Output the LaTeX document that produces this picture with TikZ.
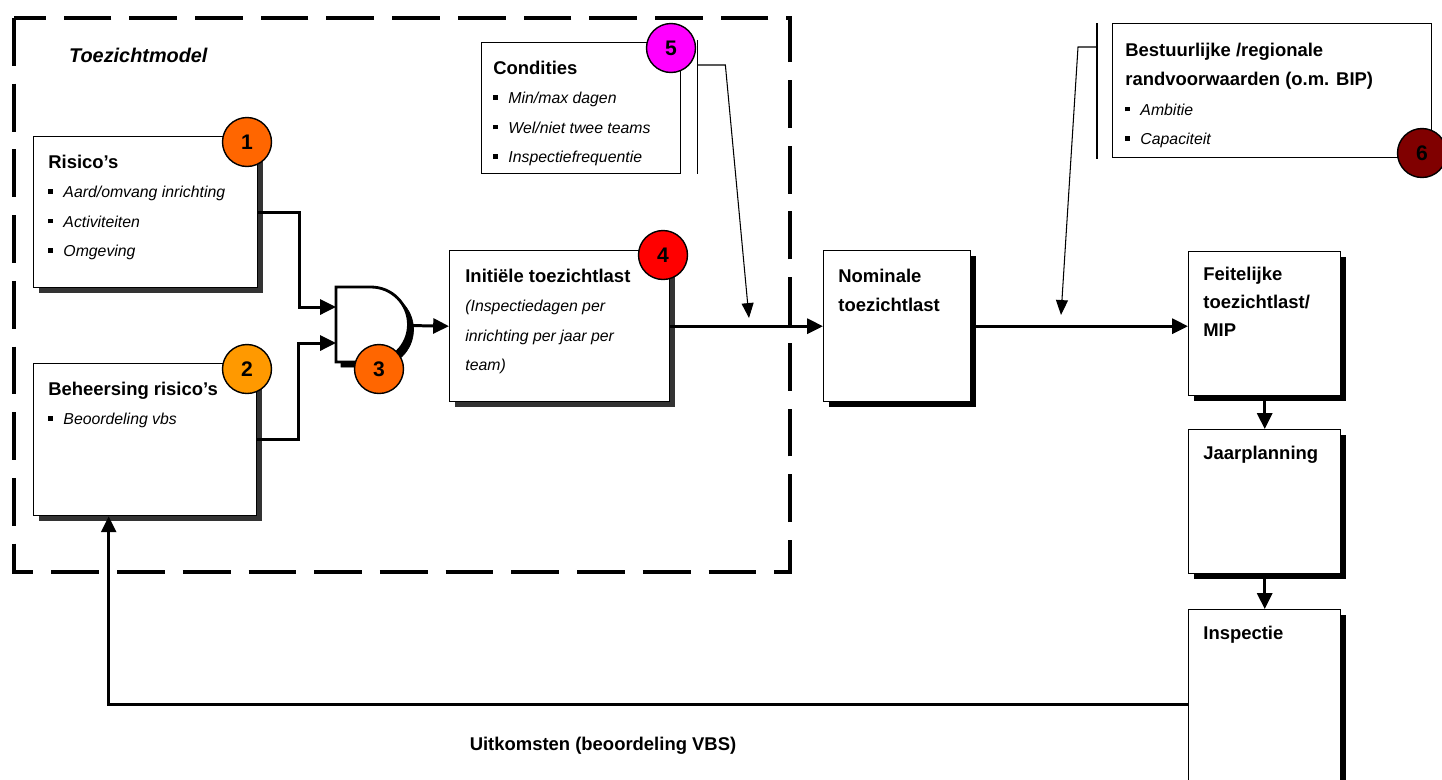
\documentclass[tikz,border=0pt]{standalone}
\usepackage{fontspec}
\setmainfont{Liberation Sans}
\usetikzlibrary{arrows.meta, shadows, calc}
\usepackage{color}

\definecolor{oranje}{HTML}{FF6600}
\definecolor{lichtoranje}{HTML}{FF9900}
\definecolor{rood}{HTML}{FF0000}
\definecolor{paars}{HTML}{FF00FF}
\definecolor{donkerrood}{HTML}{800000}

\newcommand{\bitem}[1]{\rule[2.2pt]{2.6pt}{2.6pt}\hspace{6pt}\textit{#1}}
\newcommand{\bhead}[1]{{\fontsize{10.5}{16.8}\selectfont\bfseries #1}}

\tikzset{
  blok/.style={draw, fill=white, line width=0.8pt, anchor=north west, inner sep=0pt},
  grijs/.style={drop shadow={shadow xshift=0.11cm, shadow yshift=-0.11cm, fill=black!80, opacity=1}},
  zwart/.style={drop shadow={shadow xshift=0.1cm, shadow yshift=-0.1cm, fill=black, opacity=1}},
  tekst/.style={anchor=north west, align=left, inner sep=0pt, font=\fontsize{9}{16.8}\selectfont},
  kop/.style={tekst, font=\fontsize{10.5}{16.8}\selectfont\bfseries},
  nummer/.style={circle, draw, line width=0.8pt, minimum size=0.98cm, inner sep=0pt,
    font=\fontsize{12}{12}\selectfont\bfseries},
  kader/.style={line width=2.8pt, dash pattern=on 27.2pt off 10.2pt},
  stroom/.style={->, line width=1.7pt},
  dun/.style={line width=0.7pt},
  dunpijl/.style={-{Triangle[length=8.5pt,width=6.8pt]}, line width=0.6pt},
}

\begin{document}
\begin{tikzpicture}[x=0.02cm, y=-0.02cm, >={Triangle[length=9pt,width=8.5pt]}]
\useasboundingbox (0,0) rectangle (1442,779);
\draw[kader] (14,18) rectangle (790,572);
\node[anchor=base west, font=\fontsize{11.3}{13}\selectfont\bfseries\itshape] at (63,62) (TM) {Toezichtmodel};

\node[blok, grijs, minimum width=4.48cm, minimum height=3.02cm] at (33,136) (R) {};
\node[tekst] at ($(R.north west)+(15,18.5)$) (Rtxt)
    {\bhead{Risico’s}\\ \bitem{Aard/omvang inrichting}\\ \bitem{Activiteiten}\\ \bitem{Omgeving}};
\node[blok, grijs, minimum width=4.46cm, minimum height=3.04cm] at (33,363) (B) {};
\node[tekst] at ($(B.north west)+(15,18.5)$) (Btxt)
    {\bhead{Beheersing risico’s}\\ \bitem{Beoordeling vbs}};
\node[blok, grijs, minimum width=4.4cm, minimum height=3.02cm] at (449,250) (IT) {};
\node[tekst] at ($(IT.north west)+(16,18.5)$) (ITtxt)
    {\bhead{Initiële toezichtlast}\\ \textit{(Inspectiedagen per}\\ \textit{inrichting per jaar per}\\ \textit{team)}};
\node[blok, zwart, minimum width=2.94cm, minimum height=3.02cm] at (823,250) (NT) {};
\node[kop] at ($(NT.north west)+(15,18.5)$) (NTtxt) {Nominale\\ toezichtlast};
\node[blok, zwart, minimum width=3.04cm, minimum height=2.88cm] at (1188,251) (FT) {};
\node[kop, font=\fontsize{10.5}{15.9}\selectfont\bfseries] at ($(FT.north west)+(15,15.5)$) (FTtxt)
    {Feitelijke\\ toezichtlast/\\ MIP};
\node[blok, zwart, minimum width=3.04cm, minimum height=2.88cm] at (1188,429) (JP) {};
\node[kop] at ($(JP.north west)+(15,16.5)$) (JPtxt) {Jaarplanning};
\node[blok, zwart, minimum width=3.04cm, minimum height=3.8cm] at (1188,609) (IN) {};
\node[kop] at ($(IN.north west)+(15,16.5)$) (INtxt) {Inspectie};

\node[blok, minimum width=3.98cm, minimum height=2.62cm] at (481,42) (C) {};
\node[tekst] at ($(C.north west)+(12,18.5)$) (Ctxt)
    {\bhead{Condities}\\ \bitem{Min/max dagen}\\ \bitem{Wel/niet twee teams}\\ \bitem{Inspectiefrequentie}};
\node[blok, minimum width=6.38cm, minimum height=2.68cm] at (1112,23) (BR) {};
\node[tekst] at ($(BR.north west)+(13,19.5)$) (BRtxt)
    {\bhead{Bestuurlijke /regionale}\\ \bhead{randvoorwaarden (o.m. BIP)}\\ \bitem{Ambitie}\\ \bitem{Capaciteit}};

% en-poort
\filldraw[black, shift={(5,5)}] (336,287) -- (371,287)
    arc[start angle=90, end angle=-90, radius=0.75cm] -- (336,362) -- cycle;
\filldraw[fill=white, draw=black, line width=1.6pt] (336,287) -- (371,287)
    arc[start angle=90, end angle=-90, radius=0.75cm] -- (336,362) -- cycle;
\coordinate (fakeA) at (336,307);
\coordinate (fakeB) at (336,343);
\coordinate (fakeOut) at (408,325.5);

\draw[stroom] (R.east) -- ++(41,0) |- (fakeA);
\draw[stroom] (B.east) -- ++(41,0) |- (fakeB);
\path (fakeOut) edge[stroom] (IT.west);
\path (IT.east) edge[stroom] (NT.west);
\draw[stroom] (NT.east) -- (NT.east -| FT.west);
\path (FT.south) edge[stroom] (JP.north);
\path (JP.south) edge[stroom] (IN.north);
\draw[stroom] (IN.west) -| ([xshift=-0.73cm]B.south);
\node[anchor=base, font=\fontsize{10.5}{13}\selectfont\bfseries] at (603,750) (UK)
    {Uitkomsten (beoordeling VBS)};

\coordinate (fakeC) at (749,318);
\draw[dun] ($(C.north east)+(16,-2)$) -- ($(C.south east)+(16,0)$);
\draw[dunpijl] ($(C.north east)+(16,23)$) -- ++(28,0) -- (fakeC);
\coordinate (fakeBR) at (1061,315);
\draw[dun] ($(BR.north west)+(-15,0)$) -- ($(BR.south west)+(-15,1)$);
\draw[dunpijl] ($(BR.north west)+(-15,24)$) -- ++(-19,0) -- (fakeBR);

\node[nummer, fill=oranje] at (247,142) (n1) {1};
\node[nummer, fill=lichtoranje] at (247,369) (n2) {2};
\node[nummer, fill=oranje] at (379,369) (n3) {3};
\node[nummer, fill=rood] at (663,255) (n4) {4};
\node[nummer, fill=paars] at (671,48) (n5) {5};
\node[nummer, fill=donkerrood] at (1422,153) (n6) {6};
\end{tikzpicture}
\end{document}
